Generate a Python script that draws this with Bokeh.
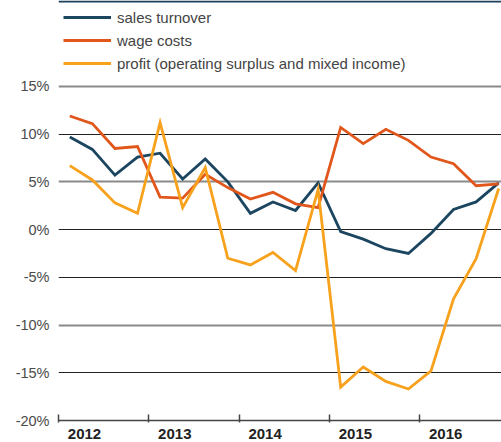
from bokeh.plotting import figure
from bokeh.models import (Range1d, LinearAxis, FixedTicker, Grid, Legend, LegendItem,
                          CustomJSTickFormatter, CustomLabelingPolicy, Span)
from bokeh.embed import file_html
from bokeh.resources import INLINE

years = [2012, 2013, 2014, 2015, 2016]
quarters = [(y, q) for y in years for q in (1, 2, 3, 4)]
sales_turnover = [9.7, 8.4, 5.7, 7.6, 8.0, 5.3, 7.4, 5.0, 1.7, 2.9, 2.0, 4.9,
                  -0.2, -1.0, -2.0, -2.5, -0.4, 2.1, 2.9, 4.9]
wage_costs = [11.9, 11.1, 8.5, 8.7, 3.4, 3.3, 5.8, 4.4, 3.2, 3.9, 2.7, 2.3,
              10.7, 9.0, 10.5, 9.35, 7.6, 6.9, 4.6, 4.8]
profit = [6.7, 5.2, 2.8, 1.7, 11.2, 2.3, 6.5, -3.0, -3.7, -2.4, -4.3, 4.2,
          -16.5, -14.4, -15.9, -16.7, -14.8, -7.25, -3.05, 4.3]
series_names = ["sales turnover", "wage costs", "profit (operating surplus and mixed income)"]
series_colors = ["#1c4560", "#e0561b", "#f7a11c"]
y_ticks = [15, 10, 5, 0, -5, -10, -15, -20]
dark_grid = [10, 0, -5, -15]
gray_grid = [15, 5, -10]

x = [y + (q - 0.5) / 4 for (y, q) in quarters]

FONT = "Liberation Sans"
Y_TOP = 24.0

p = figure(frame_width=443, frame_height=420, output_backend="svg", toolbar_location=None,
           x_range=Range1d(2012, 2016.906), y_range=Range1d(-20, Y_TOP),
           x_axis_type=None, y_axis_location="left")
p.min_border_left = 58
p.min_border_right = 0
p.min_border_top = 0
p.min_border_bottom = 0
p.outline_line_color = None
p.background_fill_color = "white"
p.border_fill_color = "white"

# y axis (labels only)
p.yaxis.ticker = FixedTicker(ticks=y_ticks)
p.yaxis.formatter = CustomJSTickFormatter(code="return tick + '%';")
p.yaxis.axis_line_color = None
p.yaxis.major_tick_line_color = None
p.yaxis.minor_tick_line_color = None
p.yaxis.major_tick_out = 0
p.yaxis.major_tick_in = 0
p.yaxis.major_label_standoff = 9
p.yaxis.major_label_text_font = FONT
p.yaxis.major_label_text_font_size = "14.5px"
p.yaxis.major_label_text_color = "#4a4a4a"

# grids
p.ygrid.ticker = FixedTicker(ticks=dark_grid)
p.ygrid.grid_line_color = "#222222"
p.ygrid.grid_line_width = 1.2
p.xgrid.visible = False
g2 = Grid(dimension=1, ticker=FixedTicker(ticks=gray_grid),
          grid_line_color="#8a8a8a", grid_line_width=2)
p.add_layout(g2, "center")

# header rule at the top
p.add_layout(Span(location=Y_TOP - 0.105, dimension="width", line_color="#1c3f5a", line_width=2))

# x axis with ticks at year boundaries (no labels)
ax_ticks = LinearAxis(ticker=FixedTicker(ticks=years + [2017]))
ax_ticks.axis_line_color = "#444444"
ax_ticks.axis_line_width = 1.5
ax_ticks.major_tick_line_color = "#444444"
ax_ticks.major_tick_line_width = 1.5
ax_ticks.major_tick_in = 6
ax_ticks.major_tick_out = 2
ax_ticks.minor_tick_line_color = None
ax_ticks.major_label_policy = CustomLabelingPolicy(code="return new Set();")
ax_ticks.major_label_text_font_size = "1px"
ax_ticks.major_label_standoff = 0
p.add_layout(ax_ticks, "below")

# year labels, offset into the year
p.extra_x_ranges["lab"] = Range1d(2012 - 0.288, 2016.906 - 0.288)
ax_lab = LinearAxis(x_range_name="lab", ticker=FixedTicker(ticks=years))
ax_lab.axis_line_color = None
ax_lab.major_tick_line_color = None
ax_lab.minor_tick_line_color = None
ax_lab.major_tick_in = 0
ax_lab.major_tick_out = 0
ax_lab.major_label_standoff = 2
ax_lab.major_label_text_font = FONT
ax_lab.major_label_text_font_style = "bold"
ax_lab.major_label_text_font_size = "15px"
ax_lab.major_label_text_color = "#222222"
p.add_layout(ax_lab, "below")

renderers = []
for vals, col in zip([sales_turnover, wage_costs, profit], series_colors):
    r = p.line(x, vals, line_color=col, line_width=2.8, line_join="miter")
    renderers.append(r)

legend = Legend(items=[LegendItem(label=n, renderers=[r]) for n, r in zip(series_names, renderers)],
                location=(5, 347), orientation="vertical")
legend.border_line_color = None
legend.background_fill_alpha = 0
legend.padding = 0
legend.margin = 0
legend.spacing = 3
legend.glyph_width = 48
legend.glyph_height = 20
legend.label_height = 20
legend.label_standoff = 6
legend.label_text_font = FONT
legend.label_text_font_size = "15px"
legend.label_text_color = "#444444"
p.add_layout(legend, "center")

open("out.html", "w").write(file_html(p, INLINE))
